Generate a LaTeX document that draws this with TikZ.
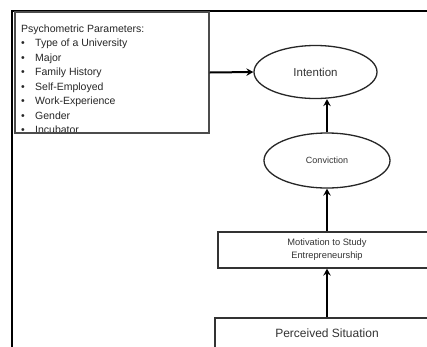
\documentclass[tikz,border=0pt]{standalone}
\usepackage{fontspec}
\setmainfont{Liberation Sans}
\usetikzlibrary{shapes.geometric,arrows.meta}
\begin{document}
\begin{tikzpicture}[x=1pt,y=-1pt,
  frame/.style={line width=2.2pt, black},
  ell/.style={draw=black!85, line width=1.3pt, ellipse, inner sep=0pt, text=black!80},
  boxnode/.style={draw=black!80, line width=1.3pt, rectangle, inner sep=0pt, text=black!80},
  conn/.style={line width=2pt, -{Stealth[length=7pt,width=7.5pt,inset=2.5pt]}},
  ptext/.style={anchor=base west, inner sep=0pt, font=\fontsize{10.5}{12}\selectfont, text=black!85},
]
\useasboundingbox (0,0) rectangle (427,346);
\clip (0,0) rectangle (427,346);
\fill[white] (0,0) rectangle (427,346);
% outer frame
\draw[frame] (428,11) -- (12,11) -- (12,348);
% parameter text, clipped by its box
\begin{scope}
  \clip (15,12) rectangle (209,133);
  \node[ptext] (p0) at (21,32) {Psychometric Parameters:};
  \foreach \t [count=\i] in {Type of a University, Major, Family History, Self-Employed, Work-Experience, Gender, Incubator}
    \node[ptext] (p\i) at (21,{32+14.5*\i}) {\makebox[14pt][l]{•}\t};
\end{scope}
\node[draw=black!70, line width=1.3pt, rectangle, inner sep=0pt, minimum width=194pt, minimum height=121pt] (params) at (112,72.5) {};
% ellipses
\node[ell, minimum width=123pt, minimum height=53pt, font=\fontsize{11.5}{13}\selectfont] (intent) at (315.5,72) {Intention};
\node[ell, minimum width=126pt, minimum height=55pt, font=\fontsize{9}{11}\selectfont] (conv) at (327,160.5) {Conviction};
% boxes
\node[boxnode, minimum width=218pt, minimum height=36pt, align=center, font=\fontsize{9.3}{13}\selectfont] (mot) at (327,250) {Motivation to Study\\Entrepreneurship};
\node[boxnode, minimum width=224pt, minimum height=30pt, font=\fontsize{12}{14}\selectfont] (perc) at (327,333) {Perceived Situation};
% connectors
\draw[conn] (params.east) -- (intent.west);
\draw[conn] (conv.north) -- (conv.north |- intent.south);
\draw[conn] (mot.north) -- (conv.south);
\draw[conn] (perc.north) -- (mot.south);
\end{tikzpicture}
\end{document}
